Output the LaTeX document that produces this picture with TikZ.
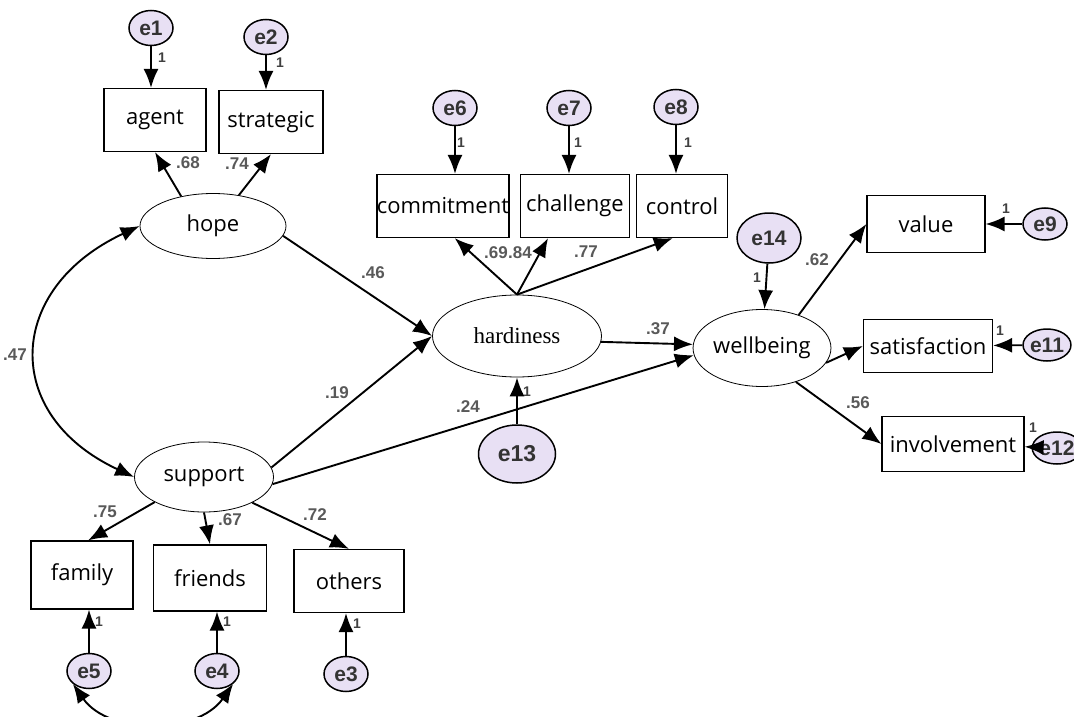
\documentclass[tikz,border=0pt]{standalone}
\usepackage{fontspec}
\setmainfont{Open Sans}
\newfontfamily\numfont{Liberation Sans}
\newfontfamily\serfont{Liberation Serif}
\usetikzlibrary{arrows.meta}
\usetikzlibrary{shapes.geometric}
\definecolor{errfill}{RGB}{232,224,244}

\begin{document}
\begin{tikzpicture}[x=1pt,y=1pt,
    obs/.style={draw, line width=1.2pt, minimum height=63pt, inner sep=0pt, font=\fontsize{22}{25}\selectfont},
    lat/.style={draw, ellipse, line width=0.8pt, inner sep=0pt, font=\fontsize{22}{25}\selectfont},
    err/.style={draw, ellipse, fill=errfill, line width=1.5pt, minimum width=44pt, minimum height=35pt, inner sep=0pt, text=black!80, font=\numfont\bfseries\fontsize{21}{23}\selectfont},
    reg/.style={line width=1.9pt, -{Latex[length=19pt,width=15pt]}},
    cov/.style={line width=1.9pt, {Latex[length=19pt,width=15pt]}-{Latex[length=19pt,width=15pt]}},
    coef/.style={inner sep=0pt, text=black!65, font=\numfont\bfseries\fontsize{17}{19}\selectfont},
    one/.style={inner sep=0pt, text=black!75, font=\numfont\bfseries\fontsize{14}{16}\selectfont}]
    \useasboundingbox (0,0) rectangle (1074,-717);

    \node[obs, minimum width=102pt] (agent) at (155,-120) {agent};
    \node[obs, minimum width=104pt] (strategic) at (271,-122) {strategic};
    \node[obs, minimum width=132pt] (commit) at (443,-206) {commitment};
    \node[obs, minimum width=109pt] (chall) at (575,-206) {challenge};
    \node[obs, minimum width=91pt] (control) at (682,-206) {control};
    \node[obs, minimum width=118pt, minimum height=57pt] (value) at (926,-224) {value};
    \node[obs, minimum width=129pt, minimum height=53pt] (satis) at (928,-346) {satisfaction};
    \node[obs, minimum width=142pt, minimum height=55pt] (involve) at (953,-444) {involvement};
    \node[obs, minimum width=102pt, minimum height=68pt] (family) at (82,-575) {family};
    \node[obs, minimum width=113pt, minimum height=66pt] (friends) at (210,-578) {friends};
    \node[obs, minimum width=110pt] (others) at (349,-581) {others};

    \node[lat, minimum width=146pt, minimum height=65pt] (hope) at (213,-226) {hope};
    \node[lat, minimum width=139pt, minimum height=70pt] (support) at (204,-477) {support};
    \node[lat, minimum width=169pt, minimum height=82pt, font=\serfont\fontsize{23}{26}\selectfont] (hardy) at (517,-336) {hardiness};
    \node[lat, minimum width=135pt, minimum height=77pt] (wellb) at (762,-348) {wellbeing};

    \node[err] (e1) at (151,-28) {e1};
    \node[err] (e2) at (266,-37) {e2};
    \node[err] (e6) at (455,-108) {e6};
    \node[err] (e7) at (569,-108) {e7};
    \node[err] (e8) at (676,-107) {e8};
    \node[err, minimum width=64pt, minimum height=50pt] (e14) at (769,-238) {e14};
    \node[err, minimum height=32pt] (e9) at (1045,-224) {e9};
    \node[err, minimum height=32pt] (e11) at (1047,-345) {e11};
    \node[err, minimum height=32pt] (e12) at (1057,-448) {e12};
    \node[err, minimum width=77pt, minimum height=58pt, font=\numfont\bfseries\fontsize{23}{25}\selectfont] (e13) at (517,-454) {e13};
    \node[err] (e5) at (89,-671) {e5};
    \node[err] (e4) at (217,-671) {e4};
    \node[err] (e3) at (346,-674) {e3};

    \foreach \s/\t in {e1/e1 |- agent.north, e2/e2 |- strategic.north,
                       e6/e6 |- commit.north, e7/e7 |- chall.north, e8/e8 |- control.north,
                       e14/wellb, e9/value, e11/satis, e12/involve, e13/hardy,
                       e5/e5 |- family.south, e4/e4 |- friends.south, e3/e3 |- others.south}
        \draw[reg] (\s) -- (\t);

    \foreach \s/\t in {hope.137/agent.south, hope.50/strategic.south, hope.-8/hardy.west,
                       support.8/hardy.west, support.-6/wellb.186, hardy.-4/wellb.177,
                       hardy.north/commit.-70, hardy.north/chall.-130, hardy.north/control.-106,
                       support.-153/family.80, support.south/friends.north, support.-28/others.north,
                       wellb.42/value.west, wellb.-13/satis.west, wellb.-45/involve.west}
        \draw[reg] (\s) -- (\t);

    \draw[cov] (hope.west) to[out=205, in=155, looseness=1.5] (support.west);
    \draw[cov] (e5.south west) to[out=-55, in=-125] (e4.south east);

    \node[one] (o1) at (162,-58) {1};
    \node[one] (o2) at (280,-63) {1};
    \node[one] (o6) at (461,-143) {1};
    \node[one] (o7) at (578,-143) {1};
    \node[one] (o8) at (688,-143) {1};
    \node[one] (o14) at (757,-278) {1};
    \node[one] (o9) at (1006,-209) {1};
    \node[one] (o11) at (1000,-331) {1};
    \node[one] (o12) at (1033,-428) {1};
    \node[one] (o13) at (527,-392) {1};
    \node[one] (o5) at (99,-622) {1};
    \node[one] (o4) at (227,-622) {1};
    \node[one] (o3) at (357,-624) {1};

    \node[coef] (c68) at (188,-163) {.68};
    \node[coef] (c74) at (237,-164) {.74};
    \node[coef] (c69) at (496,-253) {.69};
    \node[coef] (c84) at (520,-253) {.84};
    \node[coef] (c77) at (586,-252) {.77};
    \node[coef] (c46) at (373,-273) {.46};
    \node[coef] (c47) at (15,-355) {.47};
    \node[coef] (c19) at (337,-393) {.19};
    \node[coef] (c24) at (468,-407) {.24};
    \node[coef] (c37) at (658,-329) {.37};
    \node[coef] (c62) at (817,-260) {.62};
    \node[coef] (c56) at (858,-403) {.56};
    \node[coef] (c75) at (105,-512) {.75};
    \node[coef] (c67) at (230,-520) {.67};
    \node[coef] (c72) at (315,-515) {.72};
\end{tikzpicture}
\end{document}
